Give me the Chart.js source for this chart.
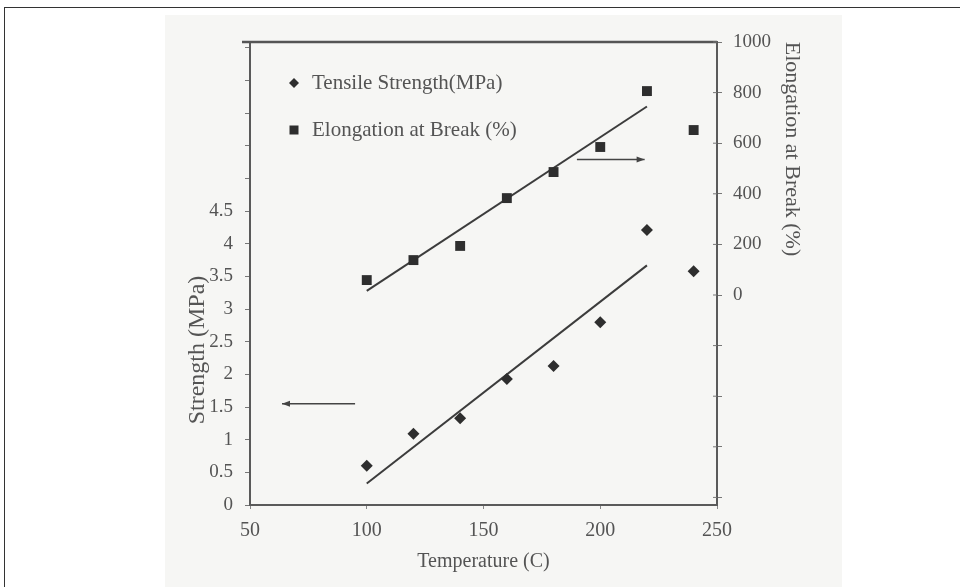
<!DOCTYPE html>
<html><head><meta charset="utf-8">
<script src="https://cdn.jsdelivr.net/npm/chart.js@4/dist/chart.umd.min.js"></script>
<style>
html,body{margin:0;padding:0;background:#fff;}
#wrap{position:relative;width:960px;height:587px;overflow:hidden;}
#scan{position:absolute;left:165px;top:15px;width:677px;height:572px;background:#f6f6f4;}
#frame{position:absolute;left:4px;top:7px;width:970px;height:600px;border-top:1px solid #333;border-left:1px solid #333;}
canvas{position:absolute;left:0;top:0;}
</style></head><body>
<div id="wrap"><div id="scan"></div><div id="frame"></div><canvas id="c" width="960" height="587"></canvas></div>
<script>
// ---- data ----
const temperatures = [100, 120, 140, 160, 180, 200, 220, 240];
const tensileStrength = [0.60, 1.09, 1.33, 1.93, 2.13, 2.80, 4.21, 3.58];
const elongationAtBreak = [59, 138, 194, 383, 486, 585, 806, 652];
const tensileTrendX = [100, 220];
const tensileTrendY = [0.33, 3.67];
const elongTrendX = [100, 220];
const elongTrendY = [16, 745];
const leftArrowX = [95, 63.7];
const leftArrowY = [1.55, 1.55];
const rightArrowX = [190, 219];
const rightArrowY = [536, 536];
const xTickValues = [50, 100, 150, 200, 250];
const leftTickValues = [0, 0.5, 1, 1.5, 2, 2.5, 3, 3.5, 4, 4.5, 5, 5.5, 6, 6.5, 7];
const leftTickLabels = ['0', '0.5', '1', '1.5', '2', '2.5', '3', '3.5', '4', '4.5', '', '', '', '', ''];
const rightTickValues = [-800, -600, -400, -200, 0, 200, 400, 600, 800, 1000];
const rightTickLabels = ['', '', '', '', '0', '200', '400', '600', '800', '1000'];
const seriesLabels = ['Tensile Strength(MPa)', 'Elongation at Break (%)'];
const axisTitles = { x: 'Temperature (C)', left: 'Strength (MPa)', right: 'Elongation at Break (%)' };

const FONT = '"Liberation Serif", "DejaVu Serif", serif';
const TXT = '#545454';
const INK = '#2e2e2e';

const pts = (xs, ys) => xs.map((x, i) => ({ x: x, y: ys[i] }));
const setTicks = vals => s => { s.ticks = vals.map(v => ({ value: v })); };

const overlay = {
  id: 'overlay',
  afterDraw(chart) {
    const ctx = chart.ctx, a = chart.chartArea;
    ctx.save();
    // top frame line
    ctx.strokeStyle = '#555'; ctx.lineWidth = 2.5;
    ctx.beginPath(); ctx.moveTo(a.left - 8, a.top); ctx.lineTo(a.right, a.top); ctx.stroke();
    // right axis ticks also cross into the plot
    const y2 = chart.scales.y2;
    ctx.strokeStyle = '#777'; ctx.lineWidth = 1;
    y2.ticks.forEach(t => {
      const py = y2.getPixelForValue(t.value);
      ctx.beginPath(); ctx.moveTo(a.right - 4, py); ctx.lineTo(a.right, py); ctx.stroke();
    });
    // arrowheads
    [4, 5].forEach(i => {
      const meta = chart.getDatasetMeta(i);
      const p0 = meta.data[0], p1 = meta.data[1];
      const ang = Math.atan2(p1.y - p0.y, p1.x - p0.x);
      ctx.fillStyle = '#444';
      ctx.beginPath();
      ctx.moveTo(p1.x, p1.y);
      ctx.lineTo(p1.x - 8 * Math.cos(ang) + 3 * Math.sin(ang), p1.y - 8 * Math.sin(ang) - 3 * Math.cos(ang));
      ctx.lineTo(p1.x - 8 * Math.cos(ang) - 3 * Math.sin(ang), p1.y - 8 * Math.sin(ang) + 3 * Math.cos(ang));
      ctx.closePath(); ctx.fill();
    });
    // axis titles (offset as in original)
    ctx.fillStyle = TXT;
    ctx.textAlign = 'center'; ctx.textBaseline = 'middle';
    ctx.font = '24px ' + FONT;
    ctx.save(); ctx.translate(198, 350); ctx.rotate(-Math.PI / 2); ctx.fillText(axisTitles.left, 0, 0); ctx.restore();
    ctx.font = '22px ' + FONT;
    ctx.save(); ctx.translate(792, 149); ctx.rotate(Math.PI / 2); ctx.fillText(axisTitles.right, 0, 0); ctx.restore();
    // legend
    ctx.textAlign = 'left';
    ctx.font = '21px ' + FONT;
    const lx = 294, ly = [83, 130];
    ctx.fillStyle = INK;
    ctx.beginPath(); ctx.moveTo(lx, ly[0] - 5); ctx.lineTo(lx + 5, ly[0]); ctx.lineTo(lx, ly[0] + 5); ctx.lineTo(lx - 5, ly[0]); ctx.closePath(); ctx.fill();
    ctx.fillRect(lx - 4.5, ly[1] - 4.5, 9, 9);
    ctx.fillStyle = TXT;
    ctx.fillText(seriesLabels[0], 312, ly[0]);
    ctx.fillText(seriesLabels[1], 312, ly[1]);
    ctx.restore();
  }
};

new Chart(document.getElementById('c'), {
  type: 'scatter',
  data: {
    datasets: [
      { label: seriesLabels[0], data: pts(temperatures, tensileStrength), yAxisID: 'y',
        pointStyle: 'rectRot', pointRadius: 6, backgroundColor: INK, borderColor: INK, borderWidth: 0, showLine: false },
      { label: seriesLabels[1], data: pts(temperatures, elongationAtBreak), yAxisID: 'y2',
        pointStyle: 'rect', pointRadius: 7, backgroundColor: INK, borderColor: INK, borderWidth: 0, showLine: false },
      { label: 'tensile fit', data: pts(tensileTrendX, tensileTrendY), yAxisID: 'y',
        showLine: true, pointRadius: 0, borderColor: '#3c3c3c', borderWidth: 2 },
      { label: 'elongation fit', data: pts(elongTrendX, elongTrendY), yAxisID: 'y2',
        showLine: true, pointRadius: 0, borderColor: '#3c3c3c', borderWidth: 2 },
      { label: 'left arrow', data: pts(leftArrowX, leftArrowY), yAxisID: 'y',
        showLine: true, pointRadius: 0, borderColor: '#444', borderWidth: 1.5 },
      { label: 'right arrow', data: pts(rightArrowX, rightArrowY), yAxisID: 'y2',
        showLine: true, pointRadius: 0, borderColor: '#444', borderWidth: 1.5 }
    ]
  },
  options: {
    responsive: false, animation: false,
    layout: { padding: { top: 42, left: 0, right: 0, bottom: 0 } },
    plugins: { legend: { display: false }, tooltip: { enabled: false } },
    scales: {
      x: {
        type: 'linear', position: 'bottom', min: 50, max: 250,
        afterBuildTicks: setTicks(xTickValues),
        ticks: { color: TXT, font: { family: FONT, size: 20 }, padding: 10, maxRotation: 0, autoSkip: false },
        grid: { drawOnChartArea: false, tickLength: 4, color: '#888' },
        border: { color: '#5a5a5a', width: 2 },
        title: { display: true, text: axisTitles.x, color: TXT, font: { family: FONT, size: 20 }, padding: { top: 0, bottom: 13 } },
        afterFit: s => { s.height = 82; }
      },
      y: {
        type: 'linear', position: 'left', min: 0, max: 7.09,
        afterBuildTicks: setTicks(leftTickValues),
        ticks: { color: TXT, font: { family: FONT, size: 19 }, padding: 12, autoSkip: false,
                 callback: (v, i) => leftTickLabels[i] },
        grid: { drawOnChartArea: false, tickLength: 5, color: '#777' },
        border: { color: '#5a5a5a', width: 2 },
        afterFit: s => { s.width = 250; }
      },
      y2: {
        type: 'linear', position: 'right', min: -830, max: 1000,
        afterBuildTicks: setTicks(rightTickValues),
        ticks: { color: TXT, font: { family: FONT, size: 19 }, padding: 11, autoSkip: false,
                 callback: (v, i) => rightTickLabels[i] },
        grid: { drawOnChartArea: false, tickLength: 5, color: '#777' },
        border: { color: '#5a5a5a', width: 2 },
        afterFit: s => { s.width = 243; }
      }
    }
  },
  plugins: [overlay]
});
</script>
</body></html>
